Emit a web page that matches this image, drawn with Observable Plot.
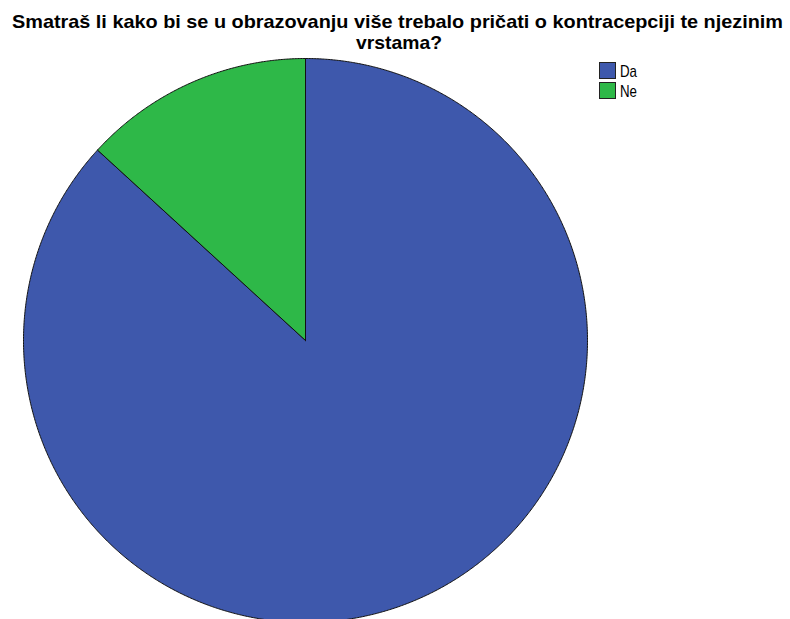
<!DOCTYPE html>
<html><head><meta charset="utf-8">
<script src="https://cdn.jsdelivr.net/npm/d3@7"></script>
<script src="https://cdn.jsdelivr.net/npm/@observablehq/plot@0.6"></script>
<style>
body{margin:0;background:#fff;}
#wrap{position:relative;width:790px;height:619px;overflow:hidden;}
</style></head>
<body><div id="wrap"></div>
<script>
const categories = ["Da", "Ne"];
const values = [86.8, 13.2];
const colors = ["#3E58AC", "#2EB848"];
const titleLines = ["Smatraš li kako bi se u obrazovanju više trebalo pričati o kontracepciji te njezinim", "vrstama?"];

const W = 790, H = 619, cx = 305, cy = 340, R = 282;
const arcs = d3.pie().sort(null).startAngle(0)(values);
const pts = [];
arcs.forEach((a, i) => {
  const n = Math.max(2, Math.ceil((a.endAngle - a.startAngle) * 180));
  pts.push({k: categories[i], x: 0, y: 0});
  for (let j = 0; j <= n; j++) {
    const t = a.startAngle + (a.endAngle - a.startAngle) * j / n;
    pts.push({k: categories[i], x: Math.sin(t), y: Math.cos(t)});
  }
  pts.push({k: categories[i], x: 0, y: 0});
});

const plot = Plot.plot({
  width: W, height: H, margin: 0,
  x: {domain: [-cx / R, (W - cx) / R], axis: null},
  y: {domain: [-(H - cy) / R, cy / R], axis: null},
  color: {domain: categories, range: colors},
  marks: [
    Plot.line(pts, {x: "x", y: "y", z: "k", fill: "k", stroke: "#111", strokeWidth: 1, curve: "linear-closed"})
  ]
});
document.getElementById("wrap").appendChild(plot);

const svg = d3.select(plot);
const font = "'Liberation Sans',Arial,sans-serif";
const tg = svg.append("g").attr("font-family", font)
  .attr("font-weight", "bold").attr("font-size", 19).attr("fill", "#000").attr("text-anchor", "middle");
tg.append("text").attr("x", 397.5).attr("y", 28).attr("textLength", 771).attr("lengthAdjust", "spacingAndGlyphs").text(titleLines[0]);
tg.append("text").attr("x", 399).attr("y", 49).attr("textLength", 86).attr("lengthAdjust", "spacingAndGlyphs").text(titleLines[1]);

const lg = svg.append("g").attr("font-family", font).attr("font-size", 17).attr("fill", "#000").attr("text-anchor", "start");
categories.forEach((c, i) => {
  lg.append("rect").attr("x", 599.5).attr("y", 62.5 + i * 20).attr("width", 16).attr("height", 16)
    .attr("fill", colors[i]).attr("stroke", "#222").attr("stroke-width", 1);
  lg.append("text").attr("x", 620).attr("y", 77 + i * 20).attr("textLength", 17).attr("lengthAdjust", "spacingAndGlyphs").text(c);
});
</script></body></html>
